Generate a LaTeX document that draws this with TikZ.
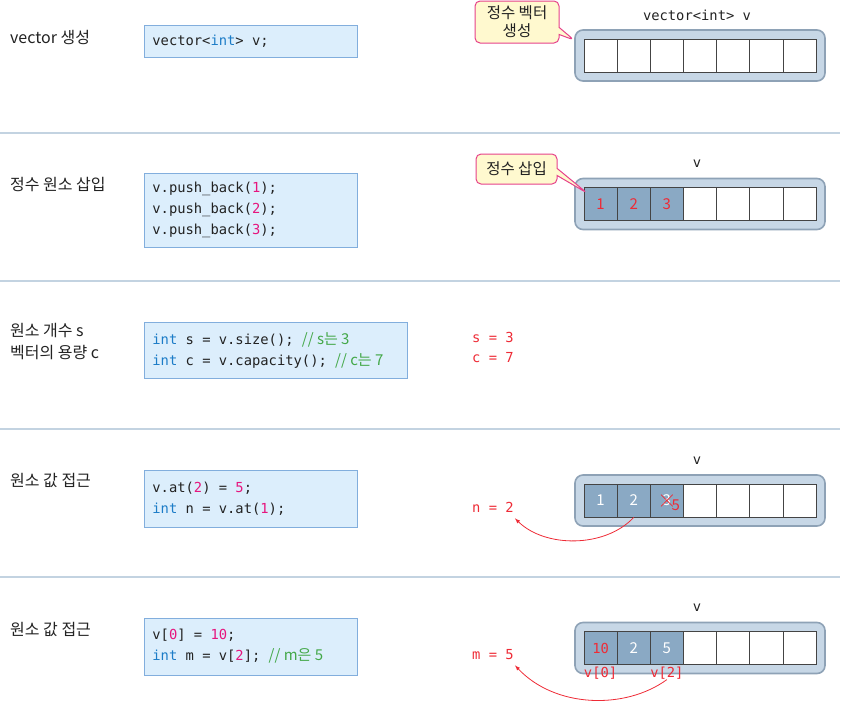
\documentclass[tikz,border=0pt]{standalone}
\usepackage{fontspec}
\setmainfont{Noto Sans CJK KR}
\setmonofont{DejaVu Sans Mono}
\usetikzlibrary{positioning,shapes.callouts,shapes.misc}
\definecolor{labeltext}{HTML}{222222}
\definecolor{kwblue}{HTML}{1C7CC7}
\definecolor{numpink}{HTML}{E6157E}
\definecolor{cmtgreen}{HTML}{43A848}
\definecolor{valred}{HTML}{EE2B36}
\definecolor{sepcol}{HTML}{C3D3E1}
\definecolor{vecfill}{HTML}{C7D7E6}
\definecolor{vecline}{HTML}{8EA2B6}
\definecolor{cellfill}{HTML}{8AA9C4}
\definecolor{cellline}{HTML}{444444}
\definecolor{codefill}{HTML}{DCEEFC}
\definecolor{codeline}{HTML}{82AEDD}
\definecolor{calloutfill}{HTML}{FFF9CF}
\definecolor{calloutline}{HTML}{E6418A}
\newcommand{\kw}[1]{\textcolor{kwblue}{#1}}
\newcommand{\nc}[1]{\textcolor{numpink}{#1}}
\newcommand{\cmt}[1]{\textcolor{cmtgreen}{\rmfamily\fontsize{15}{21}\selectfont #1}}
\newcommand{\codesp}{\spaceskip=0pt\xspaceskip=0pt\frenchspacing}

\begin{document}
\begin{tikzpicture}[x=1pt,y=-1pt,
  rowlabel/.style={anchor=west,align=left,inner sep=0pt,text=labeltext,font=\fontsize{16}{22}\selectfont},
  codebox/.style={draw=codeline,fill=codefill,line width=0.8pt,anchor=west,align=flush left,text width=197pt,inner xsep=8pt,inner ysep=0pt,text=labeltext,font=\ttfamily\fontsize{13.8}{21}\selectfont,execute at begin node=\codesp},
  vecbox/.style={draw=vecline,fill=vecfill,line width=1.6pt,rounded corners=8pt,minimum width=250pt,minimum height=51pt},
  cell/.style={draw=cellline,line width=0.8pt,minimum width=33.15pt,minimum height=33pt,inner sep=0pt},
  cellnum/.style={inner sep=0pt,font=\fontsize{15}{15}\selectfont},
  valmono/.style={inner sep=1pt,text=valred,font=\ttfamily\fontsize{13.8}{21}\selectfont},
  vname/.style={inner sep=0pt,text=labeltext,font=\ttfamily\fontsize{13.8}{21}\selectfont},
  callout/.style={rectangle callout,draw=calloutline,fill=calloutfill,line width=1pt,rounded corners=5pt,align=center,inner sep=2pt,text=labeltext,font=\fontsize{15.5}{18}\selectfont},
  link/.style={draw=valred,line width=0.8pt,-latex}]
\useasboundingbox (0,0) rectangle (866,723);

\foreach \y in {133,281,429,577} {
  \draw[sepcol,line width=1.5pt] (0,\y) -- (840,\y);
}

% left column
\node[rowlabel] (L1) at (10,37) {vector 생성};
\node[rowlabel] (L2) at (10,185) {정수 원소 삽입};
\node[rowlabel] (L3) at (10,342) {원소 개수 s\\벡터의 용량 c};
\node[rowlabel] (L4) at (10,480) {원소 값 접근};
\node[rowlabel] (L5) at (10,629) {원소 값 접근};

% code
\node[codebox,minimum height=32pt] (code1) at (144,41) {vector<\kw{int}> v;};
\node[codebox,minimum height=74pt] (code2) at (144,210) {v.push\_back(\nc{1});\\v.push\_back(\nc{2});\\v.push\_back(\nc{3});};
\node[codebox,minimum height=56pt,text width=247pt] (code3) at (144,350) {\kw{int} s = v.size(); \cmt{// s는 3}\\\kw{int} c = v.capacity(); \cmt{// c는 7}};
\node[codebox,minimum height=57pt] (code4) at (144,498.5) {v.at(\nc{2}) = \nc{5};\\\kw{int} n = v.at(\nc{1});};
\node[codebox,minimum height=57pt] (code5) at (144,646.5) {v[\nc{0}] = \nc{10};\\\kw{int} m = v[\nc{2}]; \cmt{// m은 5}};

% vectors
\foreach \r/\y/\n in {1/55.5/0,2/204/3,4/500.5/3,5/648/3} {
  \node[vecbox] (V\r) at (700,\y) {};
  \foreach \i in {1,...,7} {
    \ifnum\i>\n \def\cf{white}\else\def\cf{cellfill}\fi
    \node[cell,fill=\cf] (V\r-\i) at (567.43+33.15*\i,\y) {};
  }
}
\node[vname] (N1) at (697,15) {vector<int> v};
\node[vname] (N2) at (697,164) {v};
\node[vname] (N4) at (697,461) {v};
\node[vname] (N5) at (697,608) {v};

\foreach \i in {1,2,3} {
  \node[cellnum,text=valred] (b\i) at (V2-\i) {\i};
  \node[cellnum,text=white] (d\i) at (V4-\i) {\i};
}
\node[draw=valred,cross out,line width=0.7pt,minimum width=11pt,minimum height=11pt,inner sep=0pt] (dx) at (V4-3) {};
\node[cellnum,text=valred] (d5) at ([shift={(9,4.5)}]V4-3.center) {5};
\node[valmono,inner sep=0pt] (e1) at (V5-1) {10};
\node[cellnum,text=white] (e2) at (V5-2) {2};
\node[cellnum,text=white] (e3) at (V5-3) {5};
\node[valmono,inner sep=0pt,below=2pt of V5-1] (l0) {v[0]};
\node[valmono,inner sep=0pt,below=2pt of V5-3] (l2) {v[2]};

% values
\node[valmono,anchor=west] (sval) at (471,337) {s = 3};
\node[valmono,anchor=west] (cval) at (471,358) {c = 7};
\node[valmono,anchor=west] (nval) at (471,507) {n = 2};
\node[valmono,anchor=west] (mval) at (471,655) {m = 5};

% callouts
\coordinate (tip1) at (574,40);
\coordinate (tip2) at (587,193);
\node[callout,minimum width=84pt,minimum height=42pt,callout absolute pointer={(tip1)}] (C1) at (517,22) {정수 벡터\\생성};
\node[callout,minimum width=81pt,minimum height=30pt,callout absolute pointer={(tip2)}] (C2) at (516.5,169) {정수 삽입};

\draw[link] (V4-2.south) .. controls (605,548) and (545,548) .. ([yshift=-5pt]nval.south east);
\draw[link] (l2.south) .. controls (625,710) and (555,708) .. ([yshift=-4pt]mval.south east);
\end{tikzpicture}
\end{document}
